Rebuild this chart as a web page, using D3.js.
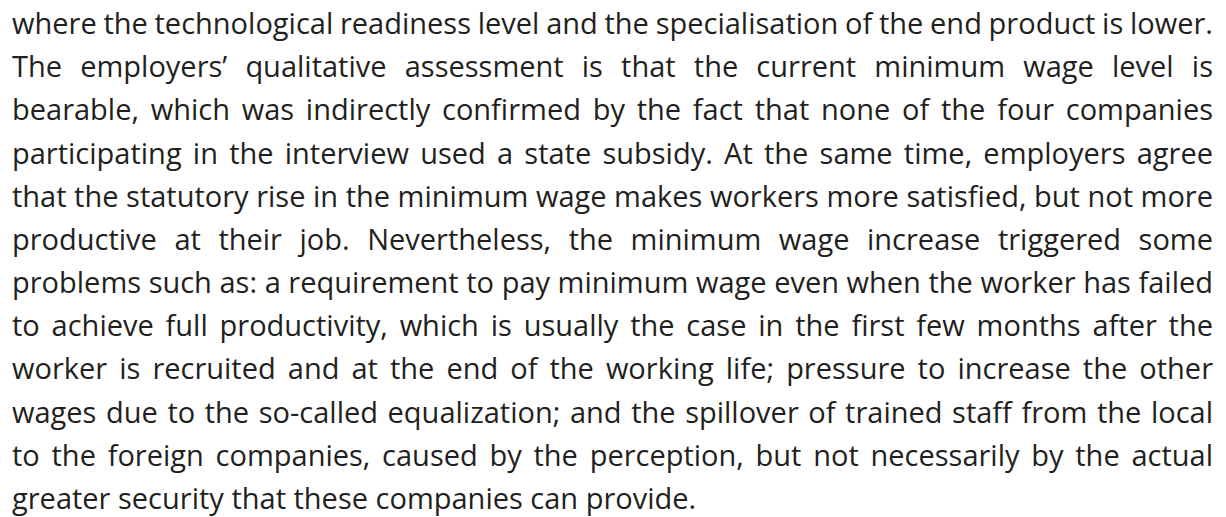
<!DOCTYPE html>
<html>
<head>
<meta charset="utf-8">
<script src="https://cdn.jsdelivr.net/npm/d3@7"></script>
<style>
  body { margin: 0; background: #fff; }
  text { font-family: "Open Sans", sans-serif; }
</style>
</head>
<body>
<svg id="page" width="1226" height="517"></svg>
<script>
const lines = [
  "where the technological readiness level and the specialisation of the end product is lower.",
  "The employers\u2019 qualitative assessment is that the current minimum wage level is",
  "bearable, which was indirectly confirmed by the fact that none of the four companies",
  "participating in the interview used a state subsidy. At the same time, employers agree",
  "that the statutory rise in the minimum wage makes workers more satisfied, but not more",
  "productive at their job. Nevertheless, the minimum wage increase triggered some",
  "problems such as: a requirement to pay minimum wage even when the worker has failed",
  "to achieve full productivity, which is usually the case in the first few months after the",
  "worker is recruited and at the end of the working life; pressure to increase the other",
  "wages due to the so-called equalization; and the spillover of trained staff from the local",
  "to the foreign companies, caused by the perception, but not necessarily by the actual",
  "greater security that these companies can provide."
];

const svg = d3.select("#page");
const width = +svg.attr("width");
const height = +svg.attr("height");

const margin = { left: 12, right: 13 };
const innerWidth = width - margin.left - margin.right;
const fontSize = 29;

// one baseline per line
const y = d3.scaleLinear().domain([0, lines.length - 1]).range([34, 509]);

const rows = svg.selectAll("text.line")
  .data(lines)
  .enter()
  .append("text")
  .attr("class", "line")
  .attr("y", (d, i) => y(i))
  .attr("font-size", fontSize)
  .attr("fill", "#231f20");

// justify: words spread across the full width, last line left aligned
rows.each(function (d, i) {
  const row = d3.select(this);
  const words = d.split(" ");
  const spans = row.selectAll("tspan")
    .data(words)
    .enter()
    .append("tspan")
    .text((w) => w);
  const widths = [];
  spans.each(function () { widths.push(this.getComputedTextLength()); });
  const total = d3.sum(widths);
  const space = fontSize * 0.26;
  const gap = i === lines.length - 1 || words.length < 2
    ? space
    : (innerWidth - total) / (words.length - 1);
  let x = margin.left;
  spans.attr("x", (w, j) => {
    const pos = x;
    x += widths[j] + gap;
    return pos;
  });
});
</script>
</body>
</html>
